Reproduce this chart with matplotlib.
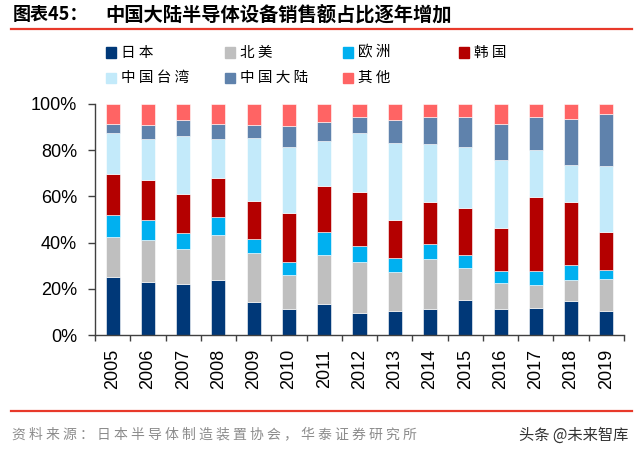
import matplotlib
matplotlib.use("Agg")
import matplotlib.pyplot as plt
from matplotlib.patches import Rectangle
from matplotlib.lines import Line2D
from matplotlib.ticker import FixedLocator, FuncFormatter
import numpy as np

plt.rcParams['font.family'] = ['Noto Sans CJK SC', 'DejaVu Sans']

years = ['2005', '2006', '2007', '2008', '2009', '2010', '2011', '2012',
         '2013', '2014', '2015', '2016', '2017', '2018', '2019']
series_names = ['日本', '北美', '欧洲', '韩国', '中国台湾', '中国大陆', '其他']
japan    = [25.2, 22.9, 21.9, 24.0, 14.2, 11.4, 13.5, 9.4, 10.6, 11.4, 15.3, 11.4, 11.7, 14.8, 10.6]
n_america= [17.1, 18.1, 15.4, 19.2, 21.3, 14.4, 21.3, 22.1, 16.7, 21.7, 13.9, 10.9, 9.9, 8.9, 13.7]
europe   = [9.8, 8.9, 6.7, 8.0, 6.1, 5.7, 9.7, 6.9, 5.9, 6.3, 5.3, 5.3, 6.3, 6.8, 3.8]
korea    = [17.8, 17.3, 17.0, 16.6, 16.2, 21.4, 19.8, 23.3, 16.6, 18.2, 20.5, 18.6, 31.8, 27.2, 16.5]
taiwan   = [17.4, 17.8, 25.0, 16.9, 27.4, 28.3, 19.6, 25.9, 33.2, 25.0, 26.3, 29.5, 20.3, 15.7, 28.6]
mainland = [3.9, 5.8, 7.0, 6.5, 5.6, 9.3, 8.2, 6.6, 10.2, 11.8, 13.2, 15.8, 14.4, 20.3, 22.6]
others   = [8.8, 9.2, 7.0, 8.8, 9.2, 9.5, 7.9, 5.8, 6.8, 5.6, 5.5, 8.5, 5.6, 6.3, 4.2]
yticks = [0, 20, 40, 60, 80, 100]

colors = ['#003878', '#BFBFBF', '#00B0F0', '#B40000', '#C3EAFA', '#5F82AC', '#FF6464']
all_series = [japan, n_america, europe, korea, taiwan, mainland, others]

W, H = 640, 458
fig = plt.figure(figsize=(W / 100, H / 100), dpi=100)

def fx(x):
    return x / W

def fy(y):
    return 1 - y / H

ax_l, ax_r, ax_t, ax_b = 95, 624, 104, 335
ax = fig.add_axes([fx(ax_l), fy(ax_b), fx(ax_r) - fx(ax_l), fy(ax_t) - fy(ax_b)])

x = np.arange(len(years))
bottom = np.zeros(len(years))
for vals, c in zip(all_series, colors):
    v = np.array(vals)
    ax.bar(x, v, 0.40, bottom=bottom, color=c, edgecolor='white', linewidth=0.4)
    bottom += v

ax.set_xlim(-0.5, len(years) - 0.5)
ax.set_ylim(0, 100)
for s in ['top', 'right']:
    ax.spines[s].set_visible(False)
for s in ['left', 'bottom']:
    ax.spines[s].set_color('#404040')
    ax.spines[s].set_linewidth(1.0)

ax.set_yticks(yticks)
ax.yaxis.set_major_formatter(FuncFormatter(lambda v, p: f'{int(v)}%'))
ax.tick_params(axis='y', direction='out', length=5, width=1, color='#404040', pad=8,
               labelsize=13)
for lab in ax.get_yticklabels():
    lab.set_family('Liberation Sans')

# x: tick marks at boundaries, labels at centers
ax.xaxis.set_major_locator(FixedLocator(np.arange(-0.5, len(years), 1.0)))
ax.xaxis.set_major_formatter(FuncFormatter(lambda v, p: ''))
ax.xaxis.set_minor_locator(FixedLocator(x))
ax.set_xticklabels(years, minor=True, rotation=90, family='Liberation Sans', fontsize=13)
ax.tick_params(axis='x', which='major', direction='out', length=4, width=1, color='#404040')
ax.tick_params(axis='x', which='minor', length=0, pad=10)

# title
fig.text(fx(13), fy(15), '图表45：', fontsize=13, fontweight='bold', va='center', ha='left')
fig.text(fx(105), fy(15), '中国大陆半导体设备销售额占比逐年增加', fontsize=13.9,
         fontweight='bold', va='center', ha='left')
fig.add_artist(Line2D([fx(11), fx(632)], [fy(29), fy(29)], color='#E8392A', lw=1.6))

# legend
leg_pos = [(106, 52.5), (225, 52.5), (343, 52.5), (459, 52.5),
           (106, 78), (225, 78), (343, 78)]
for name, c, (lx, ly) in zip(series_names, colors, leg_pos):
    fig.add_artist(Rectangle((fx(lx), fy(ly + 5)), fx(10), 10 / H, color=c,
                             transform=fig.transFigure))
    fig.text(fx(lx + 15), fy(ly), ' '.join(name), fontsize=10.5, va='center', ha='left',
             color='black')

# footer
fig.add_artist(Line2D([fx(11), fx(632)], [fy(410.5), fy(410.5)], color='#E8392A', lw=1.6))
fig.text(fx(12), fy(434), ' '.join('资料来源：日本半导体制造装置协会，华泰证券研究所'),
         fontsize=10, color='#8C8C8C', va='center', ha='left')
fig.text(fx(628), fy(435), '头条 @未来智库', fontsize=11, color='#333333', va='center',
         ha='right')

fig.savefig('out.png', dpi=100)
